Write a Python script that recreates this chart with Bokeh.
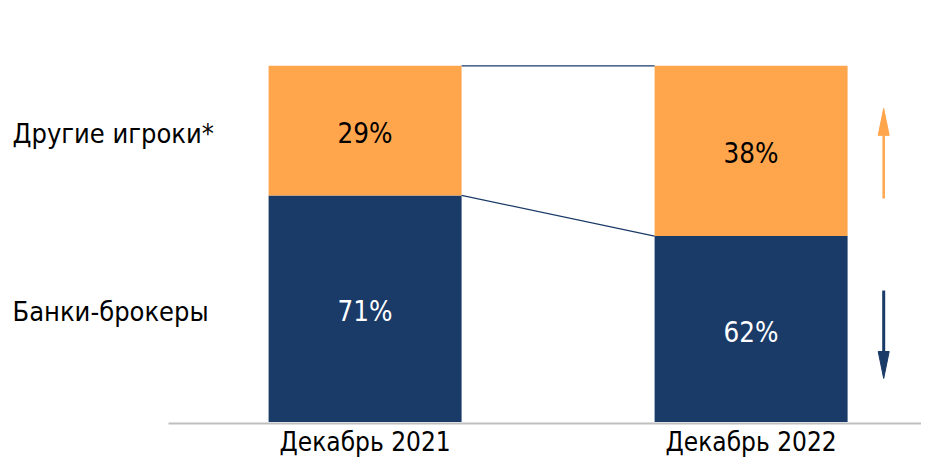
from bokeh.plotting import figure
from bokeh.models import Range1d, ColumnDataSource
from bokeh.core.properties import value
from bokeh.embed import file_html
from bokeh.resources import INLINE

# ---- data -------------------------------------------------------------
periods = ["Декабрь 2021", "Декабрь 2022"]
series_names = ["Банки-брокеры", "Другие игроки*"]
banks_label = ["71%", "62%"]
others_label = ["29%", "38%"]
# segment heights as they are drawn in the picture (share of bar, %)
banks_drawn = [63.6, 52.2]
others_drawn = [36.4, 47.8]

# ---- styling ------------------------------------------------------------
BLUE = "#1A3A68"
ORANGE = "#FFA64D"
AXIS_GREY = "#BFBFBF"
FONT = value("DejaVu Sans Condensed, DejaVu Sans")

W, H = 921, 458
PX_X = 386.0        # pixels per category step
PX_Y = 3.562        # pixels per percent
BAR_W = 0.5
x0 = 1 - 364.6 / PX_X
y0 = -(H - 421.5) / PX_Y

p = figure(width=W, height=H,
           x_range=Range1d(x0, x0 + W / PX_X),
           y_range=Range1d(y0, y0 + H / PX_Y),
           output_backend="svg", toolbar_location=None,
           x_axis_location=None, y_axis_location=None,
           min_border=0)
p.grid.visible = False
p.outline_line_color = None
p.background_fill_color = "white"
p.border_fill_color = "white"

xs = [i + 1 for i in range(len(periods))]
tops = [b + o for b, o in zip(banks_drawn, others_drawn)]
lab_dy = 2.5 / PX_Y
src = ColumnDataSource(dict(x=xs, banks=banks_drawn, tops=tops,
                            bmid=[b / 2 - lab_dy for b in banks_drawn],
                            omid=[b + o / 2 - lab_dy for b, o in zip(banks_drawn, others_drawn)],
                            blab=banks_label, olab=others_label,
                            period=periods))

# baseline line (axis)
p.segment(x0=[x0 + 168 / PX_X], x1=[x0 + W / PX_X], y0=[-1.5 / PX_Y], y1=[-1.5 / PX_Y],
          line_color=AXIS_GREY, line_width=2)

# bars
p.vbar(x="x", width=BAR_W, bottom=0, top="banks", source=src,
       fill_color=BLUE, line_color=None)
p.vbar(x="x", width=BAR_W, bottom="banks", top="tops", source=src,
       fill_color=ORANGE, line_color=None)

# connector lines between bars
right1 = xs[0] + BAR_W / 2
left2 = xs[1] - BAR_W / 2
p.segment(x0=[right1, right1], x1=[left2, left2],
          y0=[tops[0], banks_drawn[0]], y1=[tops[1], banks_drawn[1]],
          line_color=BLUE, line_width=1.2)

# value labels
p.text(x="x", y="bmid", text="blab", source=src, text_color="white",
       text_align="center", text_baseline="middle",
       text_font=FONT, text_font_size="27.5px")
p.text(x="x", y="omid", text="olab", source=src, text_color="black",
       text_align="center", text_baseline="middle",
       text_font=FONT, text_font_size="27.5px")

# category labels (kept fully inside the canvas)
p.text(x="x", y=-(456 - 421.5) / PX_Y, text="period", source=src, text_color="black",
       text_align="center", text_baseline="bottom",
       text_font=FONT, text_font_size="26px")

# series labels on the left, aligned to the first bar's segments
p.text(x=[x0 + 12 / PX_X] * 2,
       y=[banks_drawn[0] / 2 - lab_dy, banks_drawn[0] + others_drawn[0] / 2 - lab_dy],
       text=series_names, text_color="black",
       text_align="left", text_baseline="middle",
       text_font=FONT, text_font_size="27px")

# trend arrows to the right of the second bar
ax = xs[1] + (883.3 - 750.7) / PX_X
head_half = 5.5 / PX_X
head_len = 27 / PX_Y
# up arrow (others grew)
o_tail = banks_drawn[1] + 0.22 * others_drawn[1]
o_tip = banks_drawn[1] + 0.75 * others_drawn[1]
# down arrow (banks shrank)
b_tail = 0.707 * banks_drawn[1]
b_tip = 0.234 * banks_drawn[1]

p.segment(x0=[ax], x1=[ax], y0=[o_tail], y1=[o_tip - head_len + 0.5],
          line_color=ORANGE, line_width=2.5)
p.patch(x=[ax - head_half, ax, ax + head_half], y=[o_tip - head_len, o_tip, o_tip - head_len],
        fill_color=ORANGE, line_color=ORANGE, line_width=1)
p.segment(x0=[ax], x1=[ax], y0=[b_tail], y1=[b_tip + head_len - 0.5],
          line_color=BLUE, line_width=3)
p.patch(x=[ax - head_half, ax, ax + head_half], y=[b_tip + head_len, b_tip, b_tip + head_len],
        fill_color=BLUE, line_color=BLUE, line_width=1)

open("out.html", "w").write(file_html(p, INLINE))
